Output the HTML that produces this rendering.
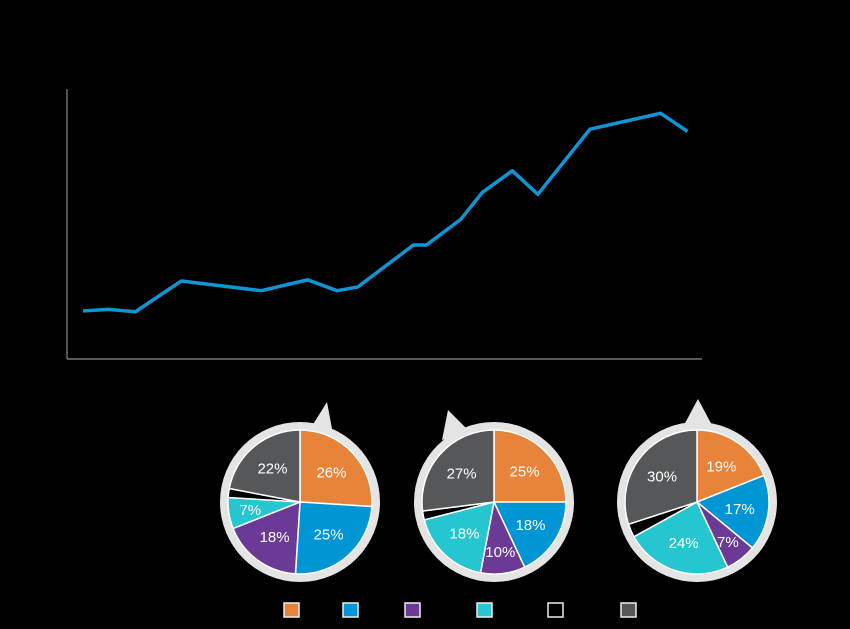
<!DOCTYPE html>
<html><head><meta charset="utf-8"><style>
html,body{margin:0;background:#000;width:850px;height:629px;overflow:hidden;font-family:"Liberation Sans",sans-serif}
svg{display:block}
</style></head><body>
<svg id="c" width="850" height="629">
<line x1="67" y1="89" x2="67" y2="359" stroke="#8a8a8a" stroke-width="1.2"/>
<line x1="67" y1="359" x2="702" y2="359" stroke="#8a8a8a" stroke-width="1.2"/>
</svg>
<script>
const lineX=[0,25.5,52.4,98.4,178.2,224.6,254.1,274.9,330.4,343.4,377.7,399.3,429.3,454.9,506.9,577.6,604.5];
const lineY=[17.8,18.4,17.5,28.9,25.3,29.3,25.3,26.7,42.2,42.2,51.7,61.7,69.7,61.0,85.1,91.0,84.3];
const pieNames=["pie-1","pie-2","pie-3"];
const pie1=[26,25,18,7,2,22];
const pie2=[25,18,10,18,2,27];
const pie3=[19,17,7,24,3,30];
const sliceNames=["orange","blue","purple","cyan","black","gray"];
const colors=["#e8833a","#0096d6","#6b3a96","#25c6cf","#000","#555759"];
const NS="http://www.w3.org/2000/svg";
const svg=document.getElementById('c');
function sx(v){return 83+v;}
function sy(v){return 359-v*2.7;}
let d=lineX.map((x,i)=>(i?'L':'M')+sx(x)+','+sy(lineY[i])).join(' ');
const p=document.createElementNS(NS,'path');
p.setAttribute('d',d);p.setAttribute('fill','none');p.setAttribute('stroke','#0e96d4');p.setAttribute('stroke-width','3.5');p.setAttribute('stroke-linejoin','round');


svg.appendChild(p);
const pies=[pie1,pie2,pie3];
const centers=[[300,502],[494,502],[697,502]];
const tips=[[[312,426],[327,402],[333,434]],[[448,410],[470,432],[442,440]],[[684,425],[698,399],[713,427]]];
pies.forEach((vals,k)=>{
 const g=document.createElementNS(NS,'g');
 
 
 svg.appendChild(g);
 const [cx,cy]=centers[k];
 const t=document.createElementNS(NS,'polygon');
 t.setAttribute('points',tips[k].map(q=>q.join(',')).join(' '));t.setAttribute('fill','#e4e4e4');
 
 
 g.appendChild(t);
 const ring=document.createElementNS(NS,'circle');
 ring.setAttribute('cx',cx);ring.setAttribute('cy',cy);ring.setAttribute('r',80);ring.setAttribute('fill','#e4e4e4');
 
 
 g.appendChild(ring);
 const r=72;let a0=0;const tot=vals.reduce((a,b)=>a+b,0);
 vals.forEach((v,i)=>{
  const a1=a0+v/tot*2*Math.PI;
  const x0=cx+r*Math.sin(a0),y0=cy-r*Math.cos(a0),x1=cx+r*Math.sin(a1),y1=cy-r*Math.cos(a1);
  const s=document.createElementNS(NS,'path');
  s.setAttribute('d',`M${cx},${cy} L${x0},${y0} A${r},${r} 0 ${a1-a0>Math.PI?1:0} 1 ${x1},${y1} Z`);
  s.setAttribute('fill',colors[i]);s.setAttribute('stroke','#fff');s.setAttribute('stroke-width','1.5');
  
  
  g.appendChild(s);
  if(v>=5){
   const am=(a0+a1)/2,lr=v<12?r*0.7:r*0.6;
   const tx=document.createElementNS(NS,'text');
   tx.setAttribute('x',cx+lr*Math.sin(am));tx.setAttribute('y',cy-lr*Math.cos(am)+5);
   tx.setAttribute('text-anchor','middle');tx.setAttribute('fill','#fff');tx.setAttribute('font-size','15');
   tx.textContent=v+'%';
   
   
   g.appendChild(tx);
  }
  a0=a1;
 });
});
const legX=[284,343,405,477,548,621];
sliceNames.forEach((n,i)=>{
 const rc=document.createElementNS(NS,'rect');
 rc.setAttribute('x',legX[i]);rc.setAttribute('y',603);rc.setAttribute('width',15);rc.setAttribute('height',14);
 rc.setAttribute('fill',colors[i]);rc.setAttribute('stroke','#eee');rc.setAttribute('stroke-width','1.5');
 
 
 svg.appendChild(rc);
});
</script>
</body></html>
